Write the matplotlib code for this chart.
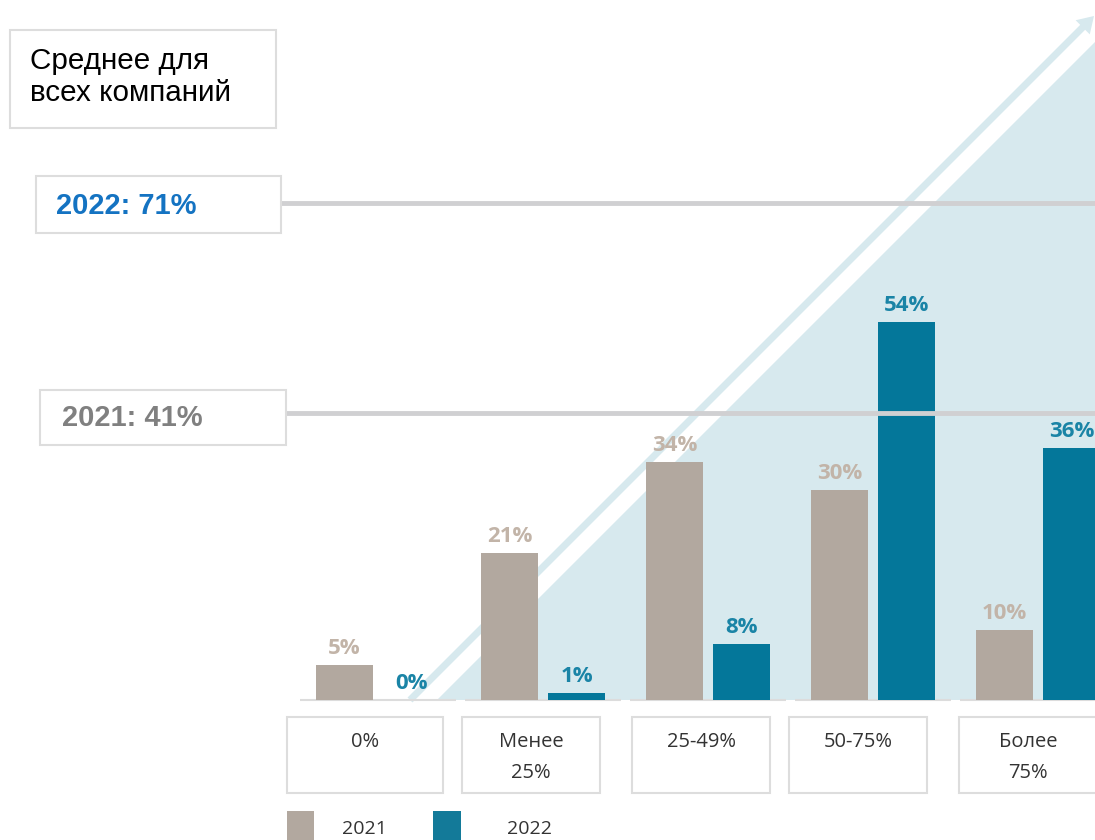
import matplotlib
matplotlib.use("Agg")
import matplotlib.pyplot as plt
import matplotlib.transforms as mtransforms
from matplotlib.patches import Rectangle, Polygon, FancyArrow

categories = ["0%", "Менее\n25%", "25-49%", "50-75%", "Более\n75%"]
vals_2021 = [5, 21, 34, 30, 10]
vals_2022 = [0, 1, 8, 54, 36]
avg_2021 = 41
avg_2022 = 71
years = ["2021", "2022"]

c21 = "#b2a89f"
c22 = "#04779a"
lab21 = "#c2b4a8"
lab22 = "#1a84a6"

W, H = 1095, 840
fig = plt.figure(figsize=(W / 100, H / 100), dpi=100)
ax = fig.add_axes([0, 0, 1, 1])
ax.set_xlim(-378 / 165, (W - 378) / 165)
ax.set_ylim(-20, 100)
ax.axis("off")

# pixel coords (top-left origin) for the decorations
px = mtransforms.Affine2D().scale(1 / W, -1 / H).translate(0, 1) + fig.transFigure

# light blue triangle + arrow stripe
ax.add_patch(Polygon([(437, 700), (1095, 42), (1095, 700)], closed=True,
                     facecolor="#d7e9ee", edgecolor="none", transform=px, zorder=0))
ax.add_patch(FancyArrow(410, 700, 684, -684, width=7, head_width=20, head_length=16,
                        length_includes_head=True, facecolor="#d7e9ee",
                        edgecolor="none", transform=px, zorder=0))

x = list(range(len(categories)))
bw = 57 / 165
off = 33.5 / 165
b1 = ax.bar([i - off for i in x], vals_2021, bw, color=c21, zorder=2)
b2 = ax.bar([i + off for i in x], vals_2022, bw, color=c22, zorder=2)

for i in x:
    ax.plot([i - 0.47, i + 0.47], [0, 0], color="#dcdcdc", lw=1.5, zorder=1,
            solid_capstyle="butt")

for i, v in enumerate(vals_2021):
    ax.annotate(f"{v}%", (i - off, v), xytext=(0, 4), textcoords="offset points",
                ha="center", va="bottom", fontsize=16, fontweight="bold",
                color=lab21, family="Open Sans", zorder=3)
for i, v in enumerate(vals_2022):
    ax.annotate(f"{v}%", (i + off, v), xytext=(0, 4), textcoords="offset points",
                ha="center", va="bottom", fontsize=16, fontweight="bold",
                color=lab22, family="Open Sans", zorder=3)

# average lines
ax.axhline(avg_2022, xmin=280 / W, xmax=1, color="#d0d0d2", lw=3.5, zorder=4)
ax.axhline(avg_2021, xmin=286 / W, xmax=1, color="#d0d0d2", lw=3.5, zorder=4)

def box(x0, y0, x1, y1):
    ax.add_patch(Rectangle((x0, y0), x1 - x0, y1 - y0, facecolor="white",
                           edgecolor="#dddddd", lw=1.5, transform=px, zorder=5,
                           clip_on=False))

box(10, 30, 276, 128)
ax.text(30, 77, "Среднее для\nвсех компаний", transform=px, ha="left", va="center",
        fontsize=21.3, family="Liberation Sans", color="black", linespacing=1.15, zorder=6)

box(36, 176, 281, 233)
ax.text(56, 206, f"{years[1]}: {avg_2022}%", transform=px, ha="left", va="center",
        fontsize=21, fontweight="bold", family="Liberation Sans", color="#1473c2", zorder=6)

box(40, 390, 286, 445)
ax.text(62, 418, f"{years[0]}: {avg_2021}%", transform=px, ha="left", va="center",
        fontsize=21, fontweight="bold", family="Liberation Sans", color="#808080", zorder=6)

# category boxes
cat_boxes = [(287, 443), (462, 600), (632, 770), (789, 927), (959, 1097)]
for (x0, x1), lab in zip(cat_boxes, categories):
    box(x0, 717, x1, 793)
    lines = lab.split("\n")
    for k, ln in enumerate(lines):
        ax.text((x0 + x1) / 2, 742 + 31 * k, ln, transform=px, ha="center",
                va="center", fontsize=14.5, family="Open Sans", color="#333333", zorder=6)

# legend
ax.add_patch(Rectangle((287, 811), 27, 29, facecolor=c21, edgecolor="none",
                       transform=px, clip_on=False))
ax.text(364, 829, years[0], transform=px, ha="center", va="center", fontsize=14,
        family="Open Sans", color="#333333")
ax.add_patch(Rectangle((433, 811), 28, 29, facecolor="#137a99", edgecolor="none",
                       transform=px, clip_on=False))
ax.text(529, 829, years[1], transform=px, ha="center", va="center", fontsize=14,
        family="Open Sans", color="#333333")

fig.savefig("out.png", dpi=100)
